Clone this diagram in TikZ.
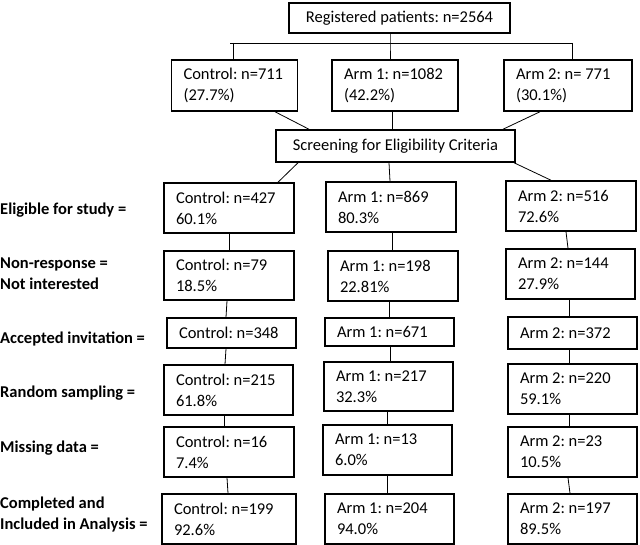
\documentclass[tikz,border=0pt]{standalone}
\usepackage{fontspec}
\setmainfont{Carlito}
\frenchspacing
\tikzset{
  cell/.style={draw, line width=1.5pt, align=flush left, text width=106pt,
    inner xsep=12pt, inner ysep=3pt, minimum height=50pt},
  topcell/.style={cell, text width=102pt},
  onecell/.style={cell, minimum height=30pt},
  headbox/.style={draw, line width=1.5pt, align=center, inner sep=0pt},
  rowlabel/.style={anchor=west, align=left, inner sep=0pt,
    font=\fontsize{16.5pt}{21pt}\selectfont\bfseries},
  link/.style={line width=0.8pt}
}
\begin{document}
\begin{tikzpicture}[x=1pt, y=-1pt, font=\fontsize{16.5pt}{21pt}\selectfont]
\useasboundingbox (0,0) rectangle (640,545);

% top of the chart
\node[headbox, minimum width=221pt, minimum height=30pt] (reg) at (399.5,18) {Registered patients: n=2564};
\node[topcell, minimum height=51pt] (c0) at (234.5,85.5) {Control: n=711\\(27.7\%)};
\node[topcell, minimum height=51pt] (a10) at (395,85.5) {Arm 1: n=1082\\(42.2\%)};
\node[topcell, minimum height=51pt, text width=104pt] (a20) at (568,85.5) {Arm 2: n= 771\\(30.1\%)};
\node[headbox, minimum width=239pt, minimum height=32pt] (scr) at (395.5,146) {Screening for Eligibility Criteria};

\coordinate (split) at (390,43);
\coordinate (bl) at (233,43);
\coordinate (br) at (572,43);
\draw[link] (reg.south -| split) -- (split) -- (a10.north -| split);
\draw[link] ([xshift=-3pt]bl) -- (br);
\draw[link] (bl) -- (bl |- c0.north);
\draw[link] (br) -- (br |- a20.north);

% row labels
\node[rowlabel] (leli) at (0,210) {Eligible for study =};
\node[rowlabel] (lnon) at (0,274) {Non-response =\\Not interested};
\node[rowlabel] (lacc) at (0,339) {Accepted invitation =};
\node[rowlabel] (lran) at (0,393) {Random sampling =};
\node[rowlabel] (lmis) at (0,448) {Missing data =};
\node[rowlabel] (lcom) at (0,514.5) {Completed and\\Included in Analysis =};

% control column
\node[cell] (ce) at (229,208) {Control: n=427\\60.1\%};
\node[cell, minimum height=49pt] (cn) at (229,275.5) {Control: n=79\\18.5\%};
\node[onecell, text width=105pt] (ca) at (231.5,333) {Control: n=348};
\node[cell, text width=105pt] (cr) at (228.5,390) {Control: n=215\\61.8\%};
\node[cell] (cm) at (229,452) {Control: n=16\\7.4\%};
\node[cell, text width=110pt] (cc) at (229,519) {Control: n=199\\92.6\%};

% arm 1 column
\node[cell] (a1e) at (391,207) {Arm 1: n=869\\80.3\%};
\node[cell] (a1n) at (393,276) {Arm 1: n=198\\22.81\%};
\node[onecell, minimum height=28pt, text width=105pt] (a1a) at (389.5,332) {Arm 1: n=671};
\node[cell, minimum height=49pt, text width=105pt] (a1r) at (388.5,386.5) {Arm 1: n=217\\32.3\%};
\node[cell, text width=105pt] (a1m) at (387.5,450) {Arm 1: n=13\\6.0\%};
\node[cell, text width=105pt] (a1c) at (389.5,519) {Arm 1: n=204\\94.0\%};

% arm 2 column
\node[cell] (a2e) at (571,206) {Arm 2: n=516\\72.6\%};
\node[cell, text width=105pt] (a2n) at (570.5,274) {Arm 2: n=144\\27.9\%};
\node[onecell, minimum height=32pt, text width=105pt] (a2a) at (572.5,333) {Arm 2: n=372};
\node[cell, text width=105pt] (a2r) at (572.5,389) {Arm 2: n=220\\59.1\%};
\node[cell, text width=105pt] (a2m) at (572.5,452) {Arm 2: n=23\\10.5\%};
\node[cell, text width=105pt] (a2c) at (572.5,519) {Arm 2: n=197\\89.5\%};

% into and out of the screening box
\draw[link] ([xshift=40.5pt]c0.south) -- ([xshift=-86.5pt]scr.north);
\draw[link] ([xshift=-3pt]a10.south) -- ([xshift=-3.5pt]scr.north);
\draw[link] ([xshift=-28pt]a20.south) -- ([xshift=107.5pt]scr.north);
\draw[link] ([xshift=-97.5pt]scr.south) -- ([xshift=49pt]ce.north);
\draw[link] ([xshift=-6.5pt]scr.south) -- ([xshift=-1pt]a1e.north);
\draw[link] ([xshift=118.5pt]scr.south) -- ([xshift=-20pt]a2e.north);

% down each column
\foreach \a/\b/\p/\q in {ce/cn/0/0, cn/ca/-2/-5.5, ca/cr/-5.5/-3.5, cr/cm/-4.5/-5, cm/cc/-2/-1,
  a1e/a1n/1/-1, a1n/a1a/-4/-0.5, a1a/a1r/0.5/1.5, a1r/a1m/-1.5/-0.5, a1m/a1c/-0.5/-2.5,
  a2e/a2n/-5/-2.5, a2n/a2a/-1.5/-3.5, a2a/a2r/-3.5/-3.5, a2r/a2m/-3.5/-3.5, a2m/a2c/-4.5/-2.5}
  \draw[link] ([xshift=\p pt]\a.south) -- ([xshift=\q pt]\b.north);
\end{tikzpicture}
\end{document}
